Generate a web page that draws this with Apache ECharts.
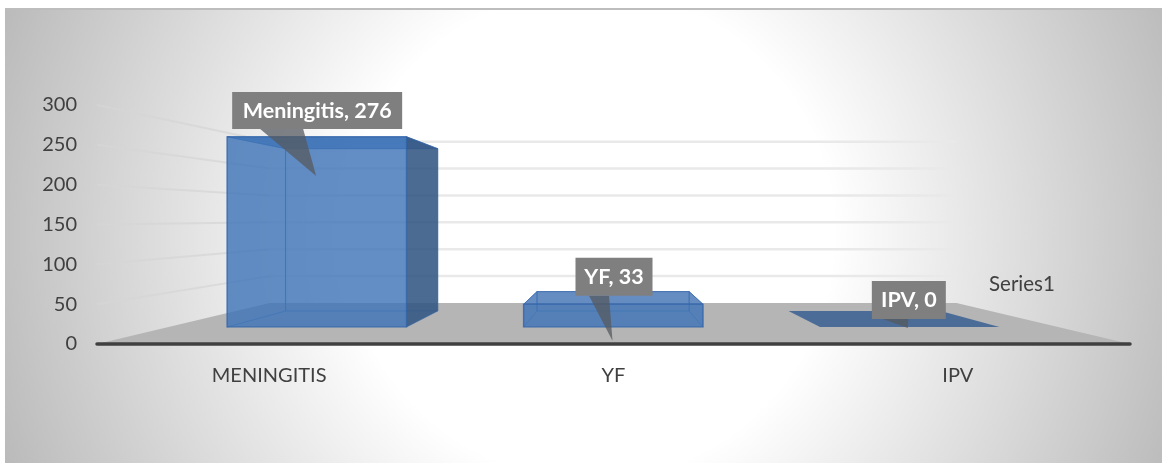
<!DOCTYPE html>
<html>
<head>
<meta charset="utf-8">
<style>html,body{margin:0;padding:0;background:#fff}#c{width:1162px;height:463px}</style>
<script src="https://cdn.jsdelivr.net/npm/echarts@6/dist/echarts.min.js"></script>
</head>
<body>
<div id="c"></div>
<script>
var categories = ['MENINGITIS', 'YF', 'IPV'];
var labelNames = ['Meningitis', 'YF', 'IPV'];
var values = [276, 33, 0];
var yTicks = [0, 50, 100, 150, 200, 250, 300];
var seriesName = 'Series1';

var FONT = 'Lato';
var VX = 612, FLOOR_RISE = 41, SX = 0.335, SY = 0.325;
var DEPTH_FRONT = 0.415, DEPTH_BACK = 0.805, BAR_RATIO = 0.605;
var callouts = [
  {dx: 48,  w: 170, h: 37, bottom: 5,   baseL: -57, baseR: -14, tipDx: 47, tipDy: 52},
  {dx: 0.5, w: 77,  h: 38, bottom: -22, baseL: -25, baseR: -5,  tipDx: -1, tipDy: 23},
  {dx: -49, w: 74,  h: 38, bottom: -25, baseL: -26, baseR: -0.5, tipDx: -50, tipDy: -16}
];

function projector(api) {
  var y0 = api.coord([0, 0])[1];
  return function (x, yVal, t) {
    var ya = api.coord([0, yVal])[1];
    return [VX + (x - VX) * (1 - SX * t), y0 + (ya - y0) * (1 - SY * t) - FLOOR_RISE * t];
  };
}
function poly(points, fill, stroke, lw) {
  return {type: 'polygon', shape: {points: points},
    style: {fill: fill, stroke: stroke || null, lineWidth: lw || 0}};
}

function renderFloor(params, api) {
  var P = projector(api), band = api.size([1, 0])[0];
  var l = api.coord([0, 0])[0] - band / 2, r = api.coord([2, 0])[0] + band / 2;
  return poly([P(l, 0, 0), P(r, 0, 0), P(r, 0, 1), P(l, 0, 1)], '#b5b5b5');
}
function renderWall(params, api) {
  var P = projector(api), band = api.size([1, 0])[0], v = api.value(1);
  var l = api.coord([0, 0])[0] - band / 2, r = api.coord([2, 0])[0] + band / 2;
  return {type: 'group', children: [
    {type: 'polyline', shape: {points: [P(l, v, 0), P(l, v, 1)]},
     style: {fill: null, stroke: 'rgba(214,214,214,0.75)', lineWidth: 2}},
    {type: 'polyline', shape: {points: [P(l, v, 1), P(r, v, 1)]},
     style: {fill: null, stroke: '#e9e9e9', lineWidth: 2.5}}
  ]};
}
function renderBar(params, api) {
  var P = projector(api), i = api.value(0), v = api.value(1);
  var c = api.coord([i, v]), hw = api.size([1, 0])[0] * BAR_RATIO / 2;
  var l = c[0] - hw, r = c[0] + hw, f = DEPTH_FRONT, b = DEPTH_BACK;
  var edge = 'rgba(50,100,170,0.6)', kids = [];
  var rightOutside = P(r, 0, b)[0] > P(r, 0, f)[0];
  if (v > 0) {
    kids.push(poly([P(l,0,b),P(r,0,b),P(r,v,b),P(l,v,b)], 'rgba(62,116,184,0.08)', edge, 1));
    kids.push(poly([P(l,0,f),P(r,0,f),P(r,0,b),P(l,0,b)], 'rgba(56,96,152,0.08)', null));
    kids.push(poly([P(l,0,f),P(l,0,b),P(l,v,b),P(l,v,f)], 'rgba(62,116,184,0.06)', edge, 1));
    if (!rightOutside) {
      kids.push(poly([P(r,0,f),P(r,0,b),P(r,v,b),P(r,v,f)], 'rgba(62,116,184,0.06)', edge, 1));
    }
    kids.push(poly([P(l,v,f),P(r,v,f),P(r,v,b),P(l,v,b)], 'rgba(62,112,178,0.78)', edge, 1));
    kids.push(poly([P(l,0,f),P(r,0,f),P(r,v,f),P(l,v,f)], 'rgba(62,116,184,0.8)', edge, 1.5));
    if (rightOutside) {
      kids.push(poly([P(r,0,f),P(r,0,b),P(r,v,b),P(r,v,f)], 'rgba(52,88,132,0.88)', edge, 1));
    }
  } else {
    kids.push(poly([P(l,v,f),P(r,v,f),P(r,v,b),P(l,v,b)], 'rgba(50,90,145,0.8)', null));
  }
  var o = callouts[i], anchor = api.coord([i, v]);
  var cx = anchor[0] + o.dx, bottom = anchor[1] + o.bottom, top = bottom - o.h;
  kids.push(poly([[cx + o.baseL, bottom], [cx + o.baseR, bottom],
    [anchor[0] + o.tipDx, anchor[1] + o.tipDy]], 'rgba(85,90,95,0.75)'));
  kids.push({type: 'rect', shape: {x: cx - o.w / 2, y: top, width: o.w, height: o.h},
    style: {fill: '#7f7f7f'}});
  kids.push({type: 'text', style: {x: cx, y: top + o.h / 2, text: labelNames[i] + ', ' + v,
    align: 'center', verticalAlign: 'middle', fill: '#fff',
    font: 'bold 21.5px ' + FONT}});
  return {type: 'group', children: kids};
}

var option = {
  animation: false,
  backgroundColor: '#ffffff',
  graphic: {z: -1, elements: [
    {type: 'rect', silent: true, shape: {x: 5, y: 8, width: 1157, height: 455},
     style: {fill: new echarts.graphic.RadialGradient(590, 235, 640, [
       {offset: 0, color: '#ffffff'}, {offset: 0.38, color: '#ffffff'}, {offset: 1, color: '#b8b8b8'}
     ], true)}},
    {type: 'rect', silent: true, shape: {x: 5, y: 8, width: 1157, height: 2}, style: {fill: '#bdbdbd'}}
  ]},
  legend: {
    data: [{name: seriesName, icon: 'none'}],
    left: 979, top: 269, itemWidth: 0, itemHeight: 0,
    textStyle: {fontFamily: FONT, fontSize: 20.5, color: '#404040'},
    selectedMode: false
  },
  grid: {left: 97, right: 32, top: 105, bottom: 119},
  xAxis: {
    type: 'category', data: categories, z: 5,
    axisTick: {show: false},
    axisLine: {lineStyle: {color: '#404040', width: 3.5}},
    axisLabel: {margin: 22, fontFamily: FONT, fontSize: 20, color: '#404040'}
  },
  yAxis: {
    type: 'value', min: 0, max: 300, interval: 50,
    axisLine: {show: false}, axisTick: {show: false}, splitLine: {show: false},
    axisLabel: {margin: 20, fontFamily: FONT, fontSize: 20, color: '#404040'}
  },
  series: [
    {type: 'custom', z: 1, silent: true, clip: false, renderItem: renderFloor, data: [[0, 0]]},
    {type: 'custom', z: 1, silent: true, clip: false, renderItem: renderWall,
     data: yTicks.filter(function (t) { return t > 0; }).map(function (t) { return [0, t]; })},
    {type: 'custom', name: seriesName, z: 6, clip: false, renderItem: renderBar,
     itemStyle: {color: '#4472c4'},
     encode: {x: 0, y: 1},
     data: values.map(function (v, i) { return [i, v]; })}
  ]
};
echarts.init(document.getElementById('c')).setOption(option);
</script>
</body>
</html>
